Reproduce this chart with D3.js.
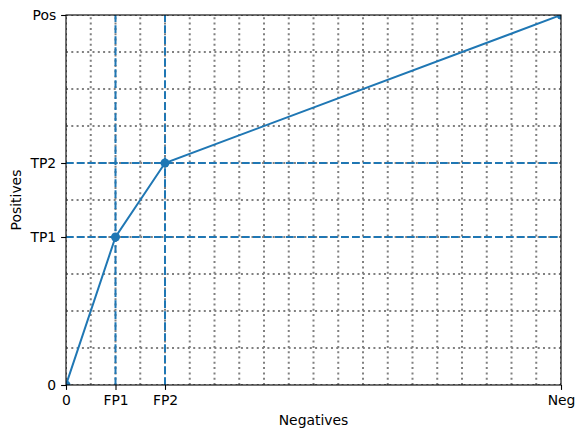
<!DOCTYPE html>
<html>
<head>
<meta charset="utf-8">
<script src="https://cdn.jsdelivr.net/npm/d3@7"></script>
<style>
  body { margin: 0; background: #fff; }
  text { font-family: "DejaVu Sans", sans-serif; }
</style>
</head>
<body>
<script>
// data
const xTickVals = [0, 2, 4, 20];
const xTickLabels = ["0", "FP1", "FP2", "Neg"];
const yTickVals = [0, 4, 6, 10];
const yTickLabels = ["0", "TP1", "TP2", "Pos"];
const curveX = [0, 2, 4, 20];
const curveY = [0, 4, 6, 10];
const fpLines = [2, 4];
const tpLines = [4, 6];
const xGrid = d3.range(0, 21);
const yGrid = d3.range(0, 11);

const width = 585, height = 438;
const margin = {left: 66, right: 24, top: 15, bottom: 53};
const blue = "#1f77b4";

const x = d3.scaleLinear().domain([0, 20]).range([margin.left, width - margin.right]);
const y = d3.scaleLinear().domain([0, 10]).range([height - margin.bottom, margin.top]);

const svg = d3.select("body").append("svg")
    .attr("width", width)
    .attr("height", height);

svg.append("defs").append("clipPath").attr("id", "plot")
    .append("rect")
    .attr("x", x(0)).attr("y", y(10))
    .attr("width", x(20) - x(0)).attr("height", y(0) - y(10));

const plot = svg.append("g").attr("clip-path", "url(#plot)");

//grid
plot.selectAll(".gx").data(xGrid).join("line")
    .attr("x1", d => x(d)).attr("x2", d => x(d))
    .attr("y1", y(0)).attr("y2", y(10))
    .attr("stroke", "#808080").attr("stroke-width", 2)
    .attr("stroke-dasharray", "2,3.3");

plot.selectAll(".gy").data(yGrid).join("line")
    .attr("y1", d => y(d)).attr("y2", d => y(d))
    .attr("x1", x(0)).attr("x2", x(20))
    .attr("stroke", "#808080").attr("stroke-width", 2)
    .attr("stroke-dasharray", "2,3.3");

//curve
const pts = curveX.map((v, i) => [v, curveY[i]]);
plot.append("path")
    .datum(pts)
    .attr("d", d3.line().x(d => x(d[0])).y(d => y(d[1])))
    .attr("fill", "none")
    .attr("stroke", blue)
    .attr("stroke-width", 2);

plot.selectAll(".pt").data(pts).join("circle")
    .attr("cx", d => x(d[0])).attr("cy", d => y(d[1]))
    .attr("r", 4.5)
    .attr("fill", blue);

//dashed guides
plot.selectAll(".fp").data(fpLines).join("line")
    .attr("x1", d => x(d)).attr("x2", d => x(d))
    .attr("y1", y(0)).attr("y2", y(10))
    .attr("stroke", blue).attr("stroke-width", 2)
    .attr("stroke-dasharray", "7.7,3.3");

plot.selectAll(".tp").data(tpLines).join("line")
    .attr("y1", d => y(d)).attr("y2", d => y(d))
    .attr("x1", x(0)).attr("x2", x(20))
    .attr("stroke", blue).attr("stroke-width", 2)
    .attr("stroke-dasharray", "7.7,3.3");

//axes
const xAxis = d3.axisBottom(x).tickValues(xTickVals)
    .tickFormat((d, i) => xTickLabels[i]).tickSize(4.9).tickPadding(4.9);
const yAxis = d3.axisLeft(y).tickValues(yTickVals)
    .tickFormat((d, i) => yTickLabels[i]).tickSize(4.9).tickPadding(4.9);

const gx = svg.append("g").attr("transform", `translate(0,${y(0)})`).call(xAxis);
const gy = svg.append("g").attr("transform", `translate(${x(0)},0)`).call(yAxis);
[gx, gy].forEach(g => {
    g.select(".domain").remove();
    g.selectAll(".tick line").attr("stroke", "#000").attr("stroke-width", 1.1);
    g.selectAll(".tick text").attr("fill", "#000").attr("font-size", 13.9)
        .attr("font-family", "DejaVu Sans");
});

//frame
svg.append("rect")
    .attr("x", x(0)).attr("y", y(10))
    .attr("width", x(20) - x(0)).attr("height", y(0) - y(10))
    .attr("fill", "none").attr("stroke", "#000").attr("stroke-width", 1.1);

svg.append("text")
    .text("Negatives")
    .attr("x", (x(0) + x(20)) / 2)
    .attr("y", 425)
    .attr("text-anchor", "middle")
    .attr("font-size", 13.9);

svg.append("text")
    .text("Positives")
    .attr("transform", `translate(21,${(y(0) + y(10)) / 2}) rotate(-90)`)
    .attr("text-anchor", "middle")
    .attr("font-size", 13.9);
</script>
</body>
</html>
